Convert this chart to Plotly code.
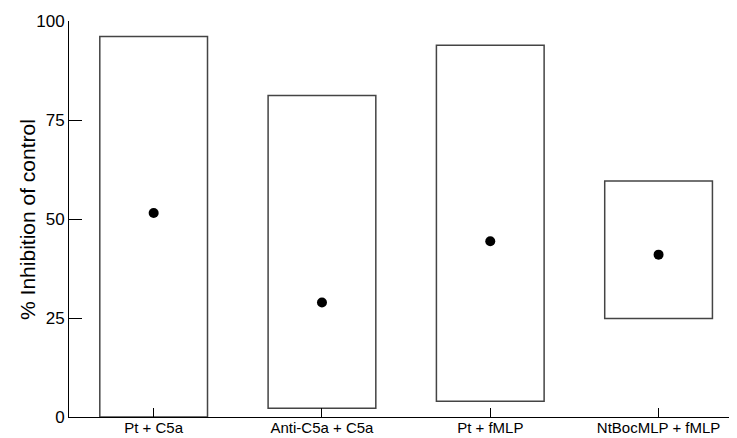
import plotly.graph_objects as go

categories = ["Pt + C5a", "Anti-C5a + C5a", "Pt + fMLP", "NtBocMLP + fMLP"]
range_low = [0.0, 2.2, 4.0, 24.9]
range_high = [96.1, 81.2, 93.9, 59.6]
medians = [51.5, 28.9, 44.4, 41.0]

heights = [h - l for h, l in zip(range_high, range_low)]

fig = go.Figure()
fig.add_trace(go.Bar(
    x=categories, y=heights, base=range_low, width=0.64,
    marker=dict(color="white", line=dict(color="#444444", width=1.5)),
    showlegend=False, hoverinfo="skip",
))
fig.add_trace(go.Scatter(
    x=categories, y=medians, mode="markers",
    marker=dict(color="black", size=10),
    showlegend=False,
))

fig.update_layout(
    width=737, height=438,
    margin=dict(l=61.3, r=8, t=12.5, b=29.3, autoexpand=False),
    paper_bgcolor="white", plot_bgcolor="white",
    font=dict(family="Liberation Sans, Arial, sans-serif", size=16, color="black"),
    xaxis=dict(
        range=[-0.503, 3.466], showline=True, linecolor="black", linewidth=1,
        ticks="inside", ticklen=9, tickcolor="black", tickwidth=1,
        showgrid=False, zeroline=False, automargin=False,
        tickfont=dict(size=15), ticklabelstandoff=-3,
    ),
    yaxis=dict(
        range=[0, 100], tickvals=[0, 25, 50, 75, 100],
        showline=True, linecolor="black", linewidth=1,
        ticks="inside", ticklen=13, tickcolor="black", tickwidth=1,
        showgrid=False, zeroline=False, automargin=False,
        tickfont=dict(size=17),
    ),
    annotations=[dict(
        text="% Inhibition of control", textangle=-90,
        xref="paper", yref="paper", x=-0.063, y=0.5,
        xanchor="center", yanchor="middle", showarrow=False,
        font=dict(size=21),
    )],
)

fig.write_html("out.html")
